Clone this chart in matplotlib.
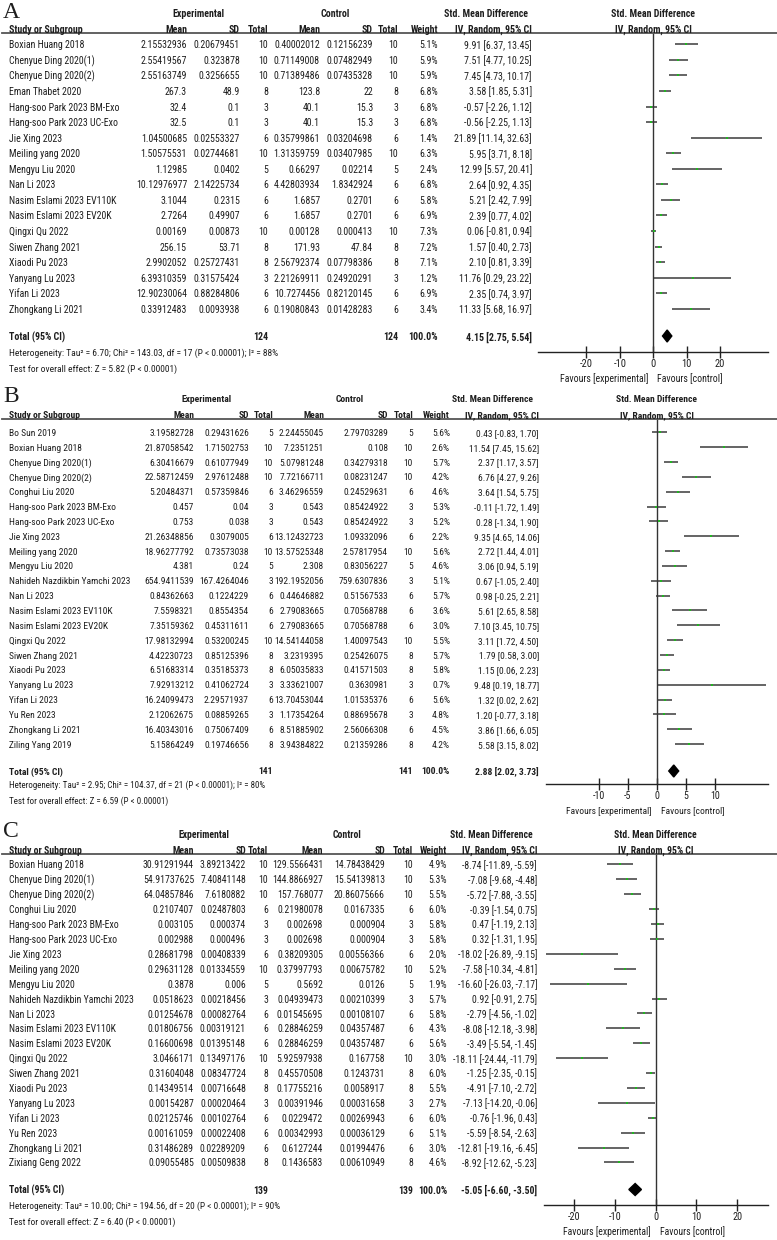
import matplotlib
matplotlib.use("Agg")
import matplotlib.pyplot as plt
from matplotlib.patches import Polygon
import logging
logging.getLogger('matplotlib.font_manager').setLevel(logging.ERROR)

plt.rcParams['font.family'] = ['Roboto Condensed', 'Archivo Narrow', 'IBM Plex Sans Condensed', 'DejaVu Sans']
plt.rcParams['axes.unicode_minus'] = False

# ---------------- Panel A data ----------------
studies_A = ["Boxian Huang 2018", "Chenyue Ding 2020(1)", "Chenyue Ding 2020(2)", "Eman Thabet 2020",
             "Hang-soo Park 2023 BM-Exo", "Hang-soo Park 2023 UC-Exo", "Jie Xing 2023", "Meiling yang 2020",
             "Mengyu Liu 2020", "Nan Li 2023", "Nasim Eslami 2023 EV110K", "Nasim Eslami 2023 EV20K",
             "Qingxi Qu 2022", "Siwen Zhang 2021", "Xiaodi Pu 2023", "Yanyang Lu 2023", "Yifan Li 2023",
             "Zhongkang Li 2021"]
exp_mean_A = ["2.15532936", "2.55419567", "2.55163749", "267.3", "32.4", "32.5", "1.04500685", "1.50575531",
              "1.12985", "10.12976977", "3.1044", "2.7264", "0.00169", "256.15", "2.9902052", "6.39310359",
              "12.90230064", "0.33912483"]
exp_sd_A = ["0.20679451", "0.323878", "0.3256655", "48.9", "0.1", "0.1", "0.02553327", "0.02744681", "0.0402",
            "2.14225734", "0.2315", "0.49907", "0.00873", "53.71", "0.25727431", "0.31575424", "0.88284806",
            "0.0093938"]
exp_n_A = [10, 10, 10, 8, 3, 3, 6, 10, 5, 6, 6, 6, 10, 8, 8, 3, 6, 6]
ctl_mean_A = ["0.40002012", "0.71149008", "0.71389486", "123.8", "40.1", "40.1", "0.35799861", "1.31359759",
              "0.66297", "4.42803934", "1.6857", "1.6857", "0.00128", "171.93", "2.56792374", "2.21269911",
              "10.7274456", "0.19080843"]
ctl_sd_A = ["0.12156239", "0.07482949", "0.07435328", "22", "15.3", "15.3", "0.03204698", "0.03407985",
            "0.02214", "1.8342924", "0.2701", "0.2701", "0.000413", "47.84", "0.07798386", "0.24920291",
            "0.82120145", "0.01428283"]
ctl_n_A = [10, 10, 10, 8, 3, 3, 6, 10, 5, 6, 6, 6, 10, 8, 8, 3, 6, 6]
weight_A = [5.1, 5.9, 5.9, 6.8, 6.8, 6.8, 1.4, 6.3, 2.4, 6.8, 5.8, 6.9, 7.3, 7.2, 7.1, 1.2, 6.9, 3.4]
smd_A = [9.91, 7.51, 7.45, 3.58, -0.57, -0.56, 21.89, 5.95, 12.99, 2.64, 5.21, 2.39, 0.06, 1.57, 2.10, 11.76, 2.35, 11.33]
lo_A = [6.37, 4.77, 4.73, 1.85, -2.26, -2.25, 11.14, 3.71, 5.57, 0.92, 2.42, 0.77, -0.81, 0.40, 0.81, 0.29, 0.74, 5.68]
hi_A = [13.45, 10.25, 10.17, 5.31, 1.12, 1.13, 32.63, 8.18, 20.41, 4.35, 7.99, 4.02, 0.94, 2.73, 3.39, 23.22, 3.97, 16.97]
total_A = (124, 124, 4.15, 2.75, 5.54)
hetero_A = "Heterogeneity: Tau\u00b2 = 6.70; Chi\u00b2 = 143.03, df = 17 (P < 0.00001); I\u00b2 = 88%"
test_A = "Test for overall effect: Z = 5.82 (P < 0.00001)"
ticks_A = [-20, -10, 0, 10, 20]

# ---------------- Panel B data ----------------
studies_B = ["Bo Sun 2019", "Boxian Huang 2018", "Chenyue Ding 2020(1)", "Chenyue Ding 2020(2)", "Conghui Liu 2020",
             "Hang-soo Park 2023 BM-Exo", "Hang-soo Park 2023 UC-Exo", "Jie Xing 2023", "Meiling yang 2020",
             "Mengyu Liu 2020", "Nahideh Nazdikbin Yamchi 2023", "Nan Li 2023", "Nasim Eslami 2023 EV110K",
             "Nasim Eslami 2023 EV20K", "Qingxi Qu 2022", "Siwen Zhang 2021", "Xiaodi Pu 2023", "Yanyang Lu 2023",
             "Yifan Li 2023", "Yu Ren 2023", "Zhongkang Li 2021", "Ziling Yang 2019"]
exp_mean_B = ["3.19582728", "21.87058542", "6.30416679", "22.58712459", "5.20484371", "0.457", "0.753",
              "21.26348856", "18.96277792", "4.381", "654.9411539", "0.84362663", "7.5598321", "7.35159362",
              "17.98132994", "4.42230723", "6.51683314", "7.92913212", "16.24099473", "2.12062675",
              "16.40343016", "5.15864249"]
exp_sd_B = ["0.29431626", "1.71502753", "0.61077949", "2.97612488", "0.57359846", "0.04", "0.038", "0.3079005",
            "0.73573038", "0.24", "167.4264046", "0.1224229", "0.8554354", "0.45311611", "0.53200245",
            "0.85125396", "0.35185373", "0.41062724", "2.29571937", "0.08859265", "0.75067409", "0.19746656"]
exp_n_B = [5, 10, 10, 10, 6, 3, 3, 6, 10, 5, 3, 6, 6, 6, 10, 8, 8, 3, 6, 3, 6, 8]
ctl_mean_B = ["2.24455045", "7.2351251", "5.07981248", "7.72166711", "3.46296559", "0.543", "0.543",
              "13.12432723", "13.57525348", "2.308", "192.1952056", "0.44646882", "2.79083665", "2.79083665",
              "14.54144058", "3.2319395", "6.05035833", "3.33621007", "13.70453044", "1.17354264",
              "8.51885902", "3.94384822"]
ctl_sd_B = ["2.79703289", "0.108", "0.34279318", "0.08231247", "0.24529631", "0.85424922", "0.85424922",
            "1.09332096", "2.57817954", "0.83056227", "759.6307836", "0.51567533", "0.70568788", "0.70568788",
            "1.40097543", "0.25426075", "0.41571503", "0.3630981", "1.01535376", "0.88695678", "2.56066308",
            "0.21359286"]
ctl_n_B = [5, 10, 10, 10, 6, 3, 3, 6, 10, 5, 3, 6, 6, 6, 10, 8, 8, 3, 6, 3, 6, 8]
weight_B = [5.6, 2.6, 5.7, 4.2, 4.6, 5.3, 5.2, 2.2, 5.6, 4.6, 5.1, 5.7, 3.6, 3.0, 5.5, 5.7, 5.8, 0.7, 5.6, 4.8, 4.5, 4.2]
smd_B = [0.43, 11.54, 2.37, 6.76, 3.64, -0.11, 0.28, 9.35, 2.72, 3.06, 0.67, 0.98, 5.61, 7.10, 3.11, 1.79, 1.15,
         9.48, 1.32, 1.20, 3.86, 5.58]
lo_B = [-0.83, 7.45, 1.17, 4.27, 1.54, -1.72, -1.34, 4.65, 1.44, 0.94, -1.05, -0.25, 2.65, 3.45, 1.72, 0.58, 0.06,
        0.19, 0.02, -0.77, 1.66, 3.15]
hi_B = [1.70, 15.62, 3.57, 9.26, 5.75, 1.49, 1.90, 14.06, 4.01, 5.19, 2.40, 2.21, 8.58, 10.75, 4.50, 3.00, 2.23,
        18.77, 2.62, 3.18, 6.05, 8.02]
total_B = (141, 141, 2.88, 2.02, 3.73)
hetero_B = "Heterogeneity: Tau\u00b2 = 2.95; Chi\u00b2 = 104.37, df = 21 (P < 0.00001); I\u00b2 = 80%"
test_B = "Test for overall effect: Z = 6.59 (P < 0.00001)"
ticks_B = [-10, -5, 0, 5, 10]

# ---------------- Panel C data ----------------
studies_C = ["Boxian Huang 2018", "Chenyue Ding 2020(1)", "Chenyue Ding 2020(2)", "Conghui Liu 2020",
             "Hang-soo Park 2023 BM-Exo", "Hang-soo Park 2023 UC-Exo", "Jie Xing 2023", "Meiling yang 2020",
             "Mengyu Liu 2020", "Nahideh Nazdikbin Yamchi 2023", "Nan Li 2023", "Nasim Eslami 2023 EV110K",
             "Nasim Eslami 2023 EV20K", "Qingxi Qu 2022", "Siwen Zhang 2021", "Xiaodi Pu 2023", "Yanyang Lu 2023",
             "Yifan Li 2023", "Yu Ren 2023", "Zhongkang Li 2021", "Zixiang Geng 2022"]
exp_mean_C = ["30.91291944", "54.91737625", "64.04857846", "0.2107407", "0.003105", "0.002988", "0.28681798",
              "0.29631128", "0.3878", "0.0518623", "0.01254678", "0.01806756", "0.16600698", "3.0466171",
              "0.31604048", "0.14349514", "0.00154287", "0.02125746", "0.00161059", "0.31486289", "0.09055485"]
exp_sd_C = ["3.89213422", "7.40841148", "7.6180882", "0.02487803", "0.000374", "0.000496", "0.00408339",
            "0.01334559", "0.006", "0.00218456", "0.00082764", "0.00319121", "0.01395148", "0.13497176",
            "0.08347724", "0.00716648", "0.00020464", "0.00102764", "0.00022408", "0.02289209", "0.00509838"]
exp_n_C = [10, 10, 10, 6, 3, 3, 6, 10, 5, 3, 6, 6, 6, 10, 8, 8, 3, 6, 6, 6, 8]
ctl_mean_C = ["129.5566431", "144.8866927", "157.768077", "0.21980078", "0.002698", "0.002698", "0.38209305",
              "0.37997793", "0.5692", "0.04939473", "0.01545695", "0.28846259", "0.28846259", "5.92597938",
              "0.45570508", "0.17755216", "0.00391946", "0.0229472", "0.00342993", "0.6127244", "0.1436583"]
ctl_sd_C = ["14.78438429", "15.54139813", "20.86075666", "0.0167335", "0.000904", "0.000904", "0.00556366",
            "0.00675782", "0.0126", "0.00210399", "0.00108107", "0.04357487", "0.04357487", "0.167758",
            "0.1243731", "0.0058917", "0.00031658", "0.00269943", "0.00036129", "0.01994476", "0.00610949"]
ctl_n_C = [10, 10, 10, 6, 3, 3, 6, 10, 5, 3, 6, 6, 6, 10, 8, 8, 3, 6, 6, 6, 8]
weight_C = [4.9, 5.3, 5.5, 6.0, 5.8, 5.8, 2.0, 5.2, 1.9, 5.7, 5.8, 4.3, 5.6, 3.0, 6.0, 5.5, 2.7, 6.0, 5.1, 3.0, 4.6]
smd_C = [-8.74, -7.08, -5.72, -0.39, 0.47, 0.32, -18.02, -7.58, -16.60, 0.92, -2.79, -8.08, -3.49, -18.11, -1.25,
         -4.91, -7.13, -0.76, -5.59, -12.81, -8.92]
lo_C = [-11.89, -9.68, -7.88, -1.54, -1.19, -1.31, -26.89, -10.34, -26.03, -0.91, -4.56, -12.18, -5.54, -24.44,
        -2.35, -7.10, -14.20, -1.96, -8.54, -19.16, -12.62]
hi_C = [-5.59, -4.48, -3.55, 0.75, 2.13, 1.95, -9.15, -4.81, -7.17, 2.75, -1.02, -3.98, -1.45, -11.79, -0.15,
        -2.72, -0.06, 0.43, -2.63, -6.45, -5.23]
total_C = (139, 139, -5.05, -6.60, -3.50)
hetero_C = "Heterogeneity: Tau\u00b2 = 10.00; Chi\u00b2 = 194.56, df = 20 (P < 0.00001); I\u00b2 = 90%"
test_C = "Test for overall effect: Z = 6.40 (P < 0.00001)"
ticks_C = [-20, -10, 0, 10, 20]

# ---------------- Layout ----------------
W, H = 777, 1240
fig = plt.figure(figsize=(W / 100, H / 100), dpi=100)
TXT = '#1e1e1e'


def fmt_ci(e, l, h):
    return f"{e:.2f} [{l:.2f}, {h:.2f}]"


def panel(letter, top, cols, studies, em, esd, en, cm, csd, cn, w, smd, lo, hi, total, hetero, test,
          row0, dy, total_y, axis_y, xlim_px, zero_px, xhalf, ticks, fs):

    def T(x, y, s, ha='left', bold=False, size=fs):
        fig.text(x / W, 1 - y / H, s, ha=ha, va='center_baseline', fontsize=size,
                 fontweight='bold' if bold else 'normal', color=TXT)

    name_x, em_x, esd_x, en_x, cm_x, csd_x, cn_x, w_x, ci_x = cols
    hdr1 = top
    hdr2 = top + 16
    line_y = hdr2 + 4
    fig.text(3 / W, 1 - max(top + 3, 18) / H, letter, ha='left', va='baseline', fontsize=17,
             family=['Liberation Serif', 'DejaVu Serif'], color=TXT)
    T(esd_x - 42, hdr1, "Experimental", ha='center', bold=True)
    T(csd_x - 38, hdr1, "Control", ha='center', bold=True)
    T(ci_x - 46, hdr1, "Std. Mean Difference", ha='center', bold=True)
    T(zero_px, hdr1, "Std. Mean Difference", ha='center', bold=True)
    T(name_x, hdr2, "Study or Subgroup", bold=True)
    for x, s in [(em_x, "Mean"), (esd_x, "SD"), (en_x, "Total"), (cm_x, "Mean"), (csd_x, "SD"),
                 (cn_x, "Total"), (w_x, "Weight"), (ci_x, "IV, Random, 95% CI")]:
        T(x, hdr2, s, ha='right', bold=True)
    T(zero_px, hdr2, "IV, Random, 95% CI", ha='center', bold=True)
    fig.add_artist(plt.Line2D([2 / W, 1.0], [1 - line_y / H, 1 - line_y / H], color='#555555', lw=1.3))

    ys = [row0 + i * dy for i in range(len(studies))]
    for i, y in enumerate(ys):
        T(name_x, y, studies[i])
        T(em_x, y, em[i], ha='right')
        T(esd_x, y, esd[i], ha='right')
        T(en_x, y, str(en[i]), ha='right')
        T(cm_x, y, cm[i], ha='right')
        T(csd_x, y, csd[i], ha='right')
        T(cn_x, y, str(cn[i]), ha='right')
        T(w_x, y, f"{w[i]:.1f}%", ha='right')
        T(ci_x, y, fmt_ci(smd[i], lo[i], hi[i]), ha='right')
    tn_e, tn_c, te, tl, th = total
    T(name_x, total_y, "Total (95% CI)", bold=True)
    T(en_x, total_y, str(tn_e), ha='right', bold=True)
    T(cn_x, total_y, str(tn_c), ha='right', bold=True)
    T(w_x, total_y, "100.0%", ha='right', bold=True)
    T(ci_x, total_y, fmt_ci(te, tl, th), ha='right', bold=True)
    T(name_x, axis_y + 0.5, hetero, size=fs * 0.96)
    T(name_x, axis_y + 16.5, test, size=fs * 0.96)

    # forest axes: pixel y coordinates inside
    x0, x1 = xlim_px
    ax = fig.add_axes([x0 / W, 1 - axis_y / H, (x1 - x0) / W, (axis_y - line_y) / H])
    ax.set_xlim(-xhalf * (zero_px - x0) / (x1 - zero_px), xhalf)
    ax.set_ylim(axis_y, line_y)
    ax.patch.set_alpha(0)
    for s in ['top', 'left', 'right']:
        ax.spines[s].set_visible(False)
    ax.spines['bottom'].set_color('#222222')
    ax.spines['bottom'].set_linewidth(1.0)
    ax.axvline(0, color='#333333', lw=1.0)
    ax.hlines(ys, lo, hi, color='#3a3a3a', lw=1.1)
    ax.plot(smd, ys, 's', color='#22b322', ms=2.0, mew=0)
    h = 6.0
    ax.add_patch(Polygon([(tl, total_y), (te, total_y - h), (th, total_y), (te, total_y + h)],
                         closed=True, color='black'))
    ax.set_yticks([])
    ax.set_xticks(ticks)
    ax.set_xticklabels([str(t) for t in ticks])
    ax.tick_params(axis='x', direction='inout', length=8, width=1.0, color='#222222',
                   labelsize=fs + 0.4, labelcolor=TXT, pad=1)
    T(zero_px - 5, axis_y + 26, "Favours [experimental]", ha='right')
    T(zero_px + 4, axis_y + 26, "Favours [control]", ha='left')


panel("A", 13, (9, 187, 240, 268, 320, 373, 398, 438, 532),
      studies_A, exp_mean_A, exp_sd_A, exp_n_A, ctl_mean_A, ctl_sd_A, ctl_n_A, weight_A, smd_A, lo_A, hi_A,
      total_A, hetero_A, test_A,
      row0=44.3, dy=15.56, total_y=336, axis_y=352, xlim_px=(538, 768), zero_px=653.3, xhalf=34.3,
      ticks=ticks_A, fs=7.1)

panel("B", 399, (9, 194, 249, 273, 324, 388, 413, 450, 539),
      studies_B, exp_mean_B, exp_sd_B, exp_n_B, ctl_mean_B, ctl_sd_B, ctl_n_B, weight_B, smd_B, lo_B, hi_B,
      total_B, hetero_B, test_B,
      row0=432.3, dy=14.85, total_y=771, axis_y=784, xlim_px=(546, 768), zero_px=657, xhalf=19.07,
      ticks=ticks_B, fs=6.8)

panel("C", 834, (9, 194, 246, 268, 323, 385, 413, 447, 537),
      studies_C, exp_mean_C, exp_sd_C, exp_n_C, ctl_mean_C, ctl_sd_C, ctl_n_C, weight_C, smd_C, lo_C, hi_C,
      total_C, hetero_C, test_C,
      row0=864.5, dy=14.9, total_y=1189.5, axis_y=1205, xlim_px=(544, 768), zero_px=655.7, xhalf=27.6,
      ticks=ticks_C, fs=7.0)

fig.savefig("out.png", dpi=100)
